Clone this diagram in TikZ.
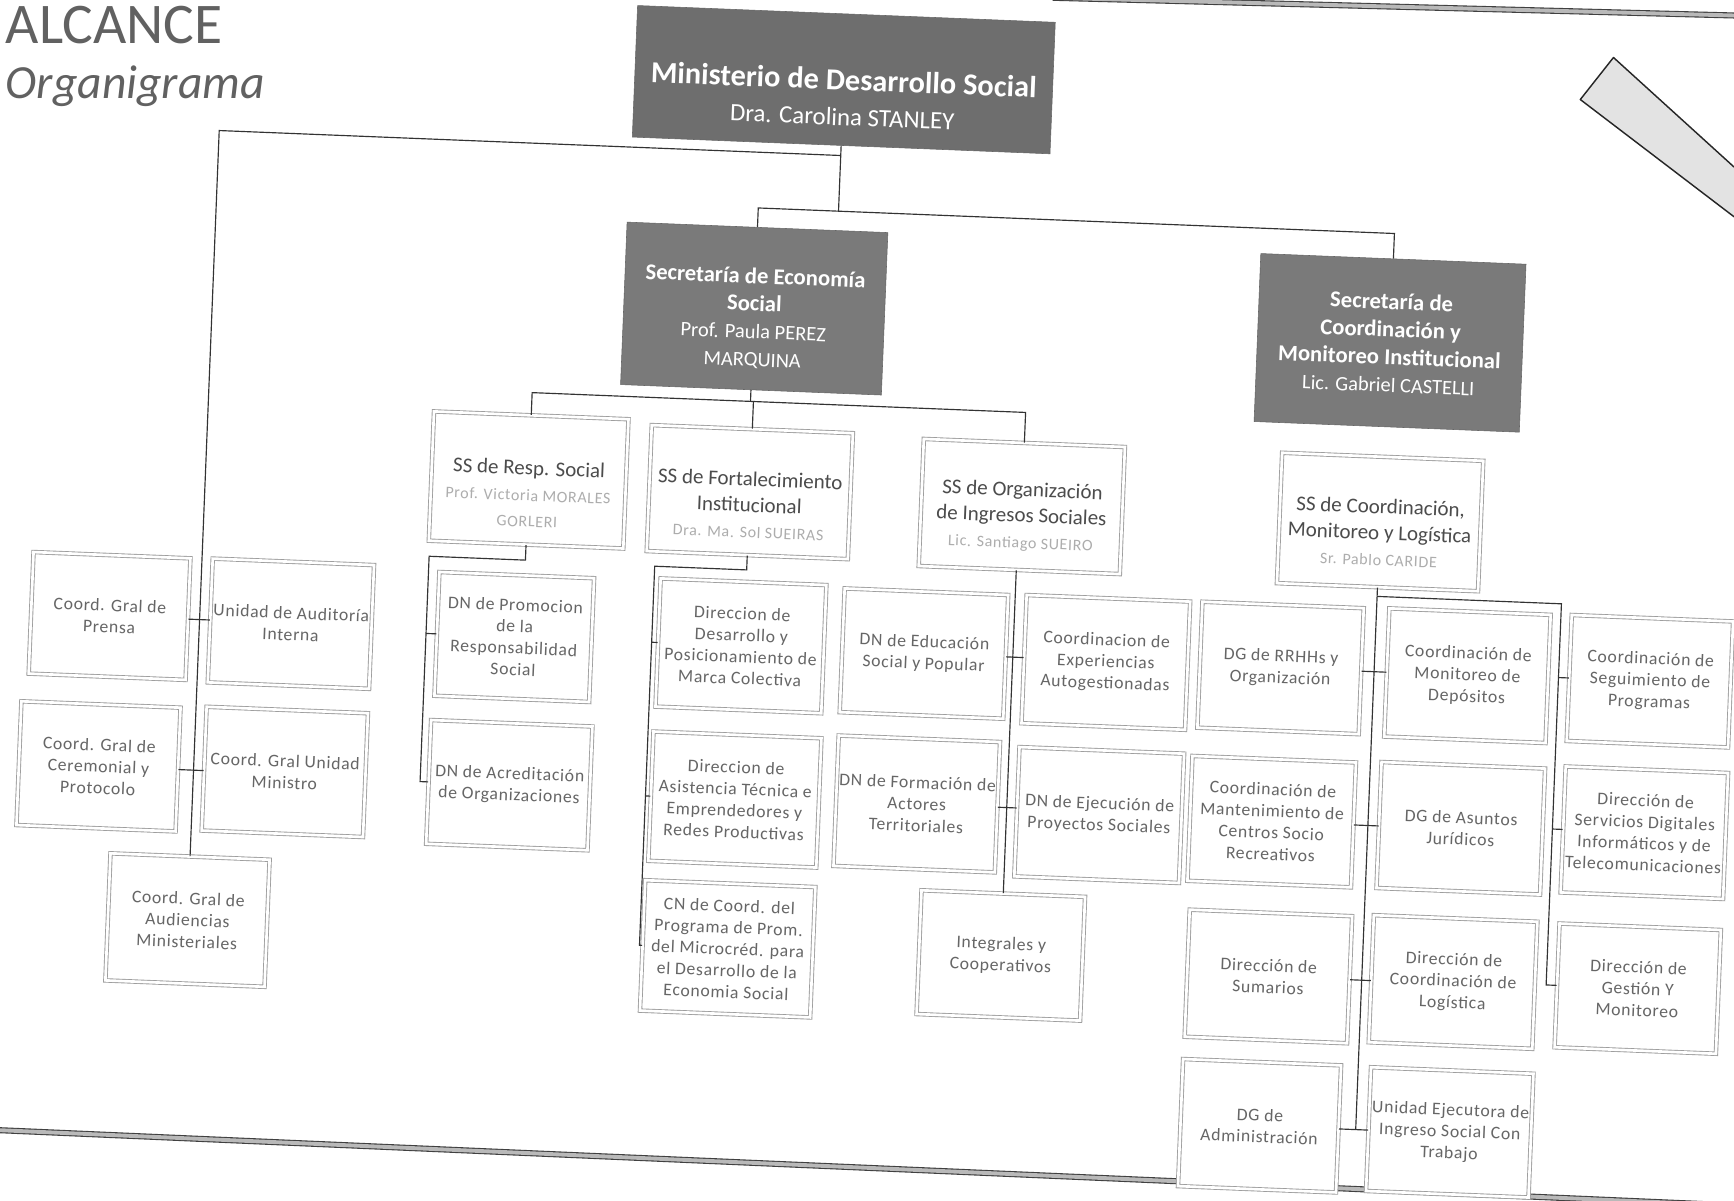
\documentclass[tikz,border=0pt]{standalone}
\usepackage{fontspec}
\setmainfont{Carlito}
\newfontfamily\unitfam[LetterSpace=4]{Carlito}
\newcommand\ufont{\unitfam\fontsize{16}{19.5}\selectfont}
\newcommand\ssfont{\fontsize{19}{23.5}\selectfont}
\newcommand\nmfont{\unitfam\fontsize{14.5}{18}\selectfont}
\newcommand\secfont{\bfseries\fontsize{20.5}{25}\selectfont}
\newcommand\topr[1]{\rule{0pt}{#1pt}}
\newcommand\nm[1]{{\nmfont\color{black!32}#1}}
\newcommand\secnm[1]{{\mdseries\fontsize{18.5}{23.5}\selectfont #1}}
\tikzset{
  conn/.style={draw=black!80, line width=1.05pt},
  unit/.style={draw=black!38, double=white, double distance=2.4pt, line width=0.8pt,
    fill=white, text=black!60, align=center, inner sep=1pt, font=\ufont,
    minimum width=146, minimum height=114},
  ssb/.style={unit, font=\ssfont, text=black!70},
  secb/.style={fill=black!52, draw=black!60, line width=0.5pt, text=white,
    align=center, inner sep=2pt, font=\secfont},
  border/.style={draw=black!75, double=gray!55, double distance=3.5pt, line width=1pt},
  titletext/.style={anchor=base west, inner sep=0, text=black!62}
}
\begin{document}
\begin{tikzpicture}[x=1pt,y=-1pt]
\useasboundingbox (0,0) rectangle (1568,1086);
\fill[white] (0,0) rectangle (1568,1086);

% header texts
\node[titletext, font=\fontsize{52}{52}\selectfont] (alc) at (5,39) {ALCANCE};
\node[titletext, font=\itshape\fontsize{43}{43}\selectfont] (org) at (5,89) {Organigrama};

% page edges and corner band
\draw[border] (952,-2) -- (1568,14);
\draw[border] (0,1022) -- (1568,1090);
\draw[fill=gray!22, draw=black!85, line width=1.3pt, line join=round]
  (1568,151) -- (1459,52) -- (1429,90) -- (1568,196);

\begin{scope}[transform canvas={rotate around={-2.3:(784,543)}}]
\begin{scope}[rotate around={2.3:(784,543)}]
  % top level
  \node[secb, fill=black!57, minimum width=378, minimum height=119,
        font=\bfseries\fontsize{27.5}{32}\selectfont] (min) at (763,72)
    {\topr{51}Ministerio de Desarrollo Social\\{\mdseries\fontsize{22.5}{32}\selectfont Dra. Carolina STANLEY}};
  \node[secb, minimum width=236, minimum height=147] (seco) at (682,279)
    {\topr{32}Secretaría de Economía\\Social\\\secnm{Prof. Paula PEREZ}\\\secnm{MARQUINA}};
  \node[secb, minimum width=240, minimum height=152] (scoord) at (1257,310)
    {Secretaría de\\Coordinación y\\Monitoreo Institucional\\\secnm{Lic. Gabriel CASTELLI}};

  % SS level
  \node[ssb, minimum width=176, minimum height=117] (ssresp) at (478,434)
    {\topr{38}SS de Resp. Social\\\nm{Prof. Victoria MORALES}\\\nm{GORLERI}};
  \node[ssb, minimum width=182, minimum height=114] (ssfort) at (678,445)
    {\topr{36}SS de Fortalecimiento\\Institucional\\\nm{Dra. Ma. Sol SUEIRAS}};
  \node[ssb, minimum width=182, minimum height=115] (ssorg) at (924,458)
    {\topr{31}SS de Organización\\de Ingresos Sociales\\\nm{Lic. Santiago SUEIRO}};
  \node[ssb, minimum width=182, minimum height=118] (sscoord) at (1248,472)
    {\topr{32}SS de Coordinación,\\Monitoreo y Logística\\\nm{Sr. Pablo CARIDE}};

  % units of the ministry
  \node[unit, minimum width=142, minimum height=110] (prensa) at (99,557) {Coord. Gral de\\Prensa};
  \node[unit, minimum height=112] (audit) at (263,564) {Unidad de Auditoría\\Interna};
  \node[unit, minimum width=144, minimum height=112] (cerem) at (89,693) {Coord. Gral de\\Ceremonial y\\Protocolo};
  \node[unit, minimum height=112] (umin) at (257.5,698) {Coord. Gral Unidad\\Ministro};
  \node[unit, minimum width=144, minimum height=115] (audi) at (169.5,832) {Coord. Gral de\\Audiencias\\Ministeriales};

  % SS Resp. Social
  \node[unit, minimum width=140, minimum height=112] (dnprom) at (465,576) {DN de Promocion\\de la\\Responsabilidad\\Social};
  \node[unit, minimum height=112] (dnacred) at (460.5,710) {DN de Acreditación\\de Organizaciones};

  % SS Fortalecimiento
  \node[unit, minimum width=150, minimum height=116] (dmarca) at (670,584) {Direccion de\\Desarrollo y\\Posicionamiento de\\Marca Colectiva};
  \node[unit, minimum width=152, minimum height=117] (dasist) at (664.5,723) {Direccion de\\Asistencia Técnica e\\Emprendedores y\\Redes Productivas};
  \node[unit, minimum width=154, minimum height=118] (cncoord) at (658,858) {CN de Coord. del\\Programa de Prom.\\del Microcréd. para\\el Desarrollo de la\\Economia Social};

  % SS Organizacion
  \node[unit, minimum width=148, minimum height=112] (dneduc) at (835.5,591) {DN de Educación\\Social y Popular};
  \node[unit, minimum width=148, minimum height=116] (cexp) at (1000,599) {Coordinacion de\\Experiencias\\Autogestionadas};
  \node[unit, minimum width=146, minimum height=118] (dnform) at (829,727) {DN de Formación de\\Actores\\Territoriales};
  \node[unit, minimum width=149, minimum height=117] (dnejec) at (994,737) {DN de Ejecución de\\Proyectos Sociales};
  \node[unit, minimum width=148, minimum height=112] (integ) at (905,864) {Integrales y\\Cooperativos};

  % SS Coordinacion
  \node[unit] (dgrrhh) at (1158,604) {DG de RRHHs y\\Organización};
  \node[unit, minimum height=116] (cmondep) at (1327,611) {Coordinación de\\Monitoreo de\\Depósitos};
  \node[unit] (cseg) at (1492,616) {Coordinación de\\Seguimiento de\\Programas};
  \node[unit, minimum width=148, minimum height=113] (cmant) at (1150,743) {Coordinación de\\Mantenimiento de\\Centros Socio\\Recreativos};
  \node[unit, minimum width=148] (dgjur) at (1321,749) {DG de Asuntos\\Jurídicos};
  \node[unit, minimum width=147] (dserv) at (1487,753) {Dirección de\\Servicios Digitales\\Informáticos y de\\Telecomunicaciones};
  \node[unit, minimum width=147, minimum height=115] (dsum) at (1147,883) {Dirección de\\Sumarios};
  \node[unit, minimum width=148, minimum height=115] (dlog) at (1314,888) {Dirección de\\Coordinación de\\Logística};
  \node[unit, minimum height=112] (dgest) at (1481,894) {Dirección de\\Gestión Y\\Monitoreo};
  \node[unit, minimum width=143, minimum height=115] (dgadm) at (1139,1018) {DG de\\Administración};
  \node[unit, minimum width=147, minimum height=112] (uejec) at (1311,1024) {Unidad Ejecutora de\\Ingreso Social Con\\Trabajo};

  % junction points
  \coordinate (bl) at (198,118);
  \coordinate (b2) at (760,191);
  \coordinate (b3) at (680,363);
  \coordinate (b4) at (388,503);
  \coordinate (b5) at (592,512);
  \coordinate (b6) at (1412,546);
\end{scope}

% connectors
\draw[conn] (min.south) -- (min.south |- b2);
\draw[conn] (seco.north) |- (b2) -| (scoord.north);
\draw[conn] (min.south |- bl) -| (audi.north);
\draw[conn] (prensa.east) -- (prensa.east -| audit.west);
\draw[conn] (cerem.east) -- (cerem.east -| umin.west);

\draw[conn] (seco.south) -- (seco.south |- b3);
\draw[conn] (ssresp.north) |- (b3) -| (ssorg.north);
\draw[conn] (ssfort.north) -- (ssfort.north |- b3);

\draw[conn] (ssresp.south) |- (b4) |- (dnacred.west);
\draw[conn] (b4 |- dnprom.west) -- (dnprom.west);

\draw[conn] (ssfort.south) |- (b5) |- (cncoord.west);
\draw[conn] (b5 |- dmarca.west) -- (dmarca.west);
\draw[conn] (b5 |- dasist.west) -- (dasist.west);

\draw[conn] (integ.north |- ssorg.south) -- (integ.north);
\draw[conn] (dneduc.east) -- (dneduc.east -| cexp.west);
\draw[conn] (dnform.east) -- (dnform.east -| dnejec.west);

\draw[conn] (sscoord.south) -- (sscoord.south |- dgadm.east);
\draw[conn] (dgrrhh.east) -- (dgrrhh.east -| cmondep.west);
\draw[conn] (cmant.east) -- (cmant.east -| dgjur.west);
\draw[conn] (dsum.east) -- (dsum.east -| dlog.west);
\draw[conn] (dgadm.east) -- (dgadm.east -| uejec.west);
\draw[conn] (sscoord.south |- b6) -- (b6) |- (dgest.west);
\draw[conn] (b6 |- cseg.west) -- (cseg.west);
\draw[conn] (b6 |- dserv.west) -- (dserv.west);
\end{scope}
\end{tikzpicture}
\end{document}
